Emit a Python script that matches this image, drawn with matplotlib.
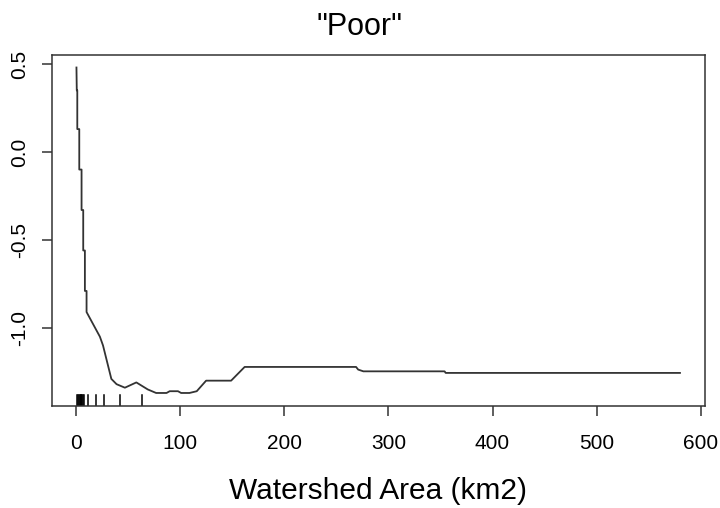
import matplotlib

matplotlib.use("Agg")
import matplotlib.pyplot as plt  # noqa: E402

plt.rcParams.update({
    "font.family": ["Liberation Sans", "DejaVu Sans"],
    "axes.linewidth": 1.1,
    "xtick.direction": "out", "ytick.direction": "out",
    "xtick.major.size": 7.5, "ytick.major.size": 7.5,
    "xtick.major.width": 1.1, "ytick.major.width": 1.1,
})
INK = "#333333"

# partial dependence curve: watershed area (km2) vs fitted effect
area = [0.5, 0.8, 1.3, 1.3, 3.2, 3.2, 5.4, 5.4, 7.0, 7.0, 8.6, 8.6, 10.2, 10.2, 23, 26, 34,
        39, 47, 58, 69, 77, 87, 90, 98, 101, 109, 116, 125, 149, 162, 269, 271, 276, 354,
        355, 580]
effect = [0.48, 0.35, 0.35, 0.13, 0.13, -0.10, -0.10, -0.33, -0.33, -0.56, -0.56, -0.79,
          -0.79, -0.91, -1.05, -1.10, -1.29, -1.32, -1.34, -1.31, -1.35, -1.37, -1.37,
          -1.36, -1.36, -1.37, -1.37, -1.36, -1.30, -1.30, -1.222, -1.222, -1.237,
          -1.247, -1.247, -1.256, -1.256]

# rug of observed areas
rug = [1.3, 2, 2.8, 3.6, 4.4, 5.2, 6, 6.8, 7.7, 11.2, 18.9, 26.9, 42.2, 63.7]

xticks = [0, 100, 200, 300, 400, 500, 600]
yticks = [-1.0, -0.5, 0.0, 0.5]

fig = plt.figure(figsize=(7.2, 5.08), dpi=100)
ax = fig.add_axes([0.0722, 0.2008, 0.9069, 0.6909])
ax.plot(area, effect, color=INK, linewidth=1.3)
for r in rug:
    ax.axvline(r, ymin=0, ymax=0.03, color="black", linewidth=1.1)

ax.set_xlim(-23, 604)
ax.set_ylim(-1.444, 0.551)
ax.set_xticks(xticks)
ax.set_yticks(yticks)
ax.set_xticklabels([str(t) for t in xticks], fontsize=15)
ax.set_yticklabels([f"{t:.1f}" for t in yticks], fontsize=15, rotation=90, va="center")
ax.tick_params(axis="x", pad=13, colors=INK, labelcolor="black")
ax.tick_params(axis="y", pad=9, colors=INK, labelcolor="black")
for s in ax.spines.values():
    s.set_color(INK)

ax.set_xlabel("Watershed Area (km2)", fontsize=21.5, labelpad=17)
fig.text(0.5, 1 - 27 / 508, '"Poor"', fontsize=22, ha="center", va="center")

fig.savefig("out.png")
